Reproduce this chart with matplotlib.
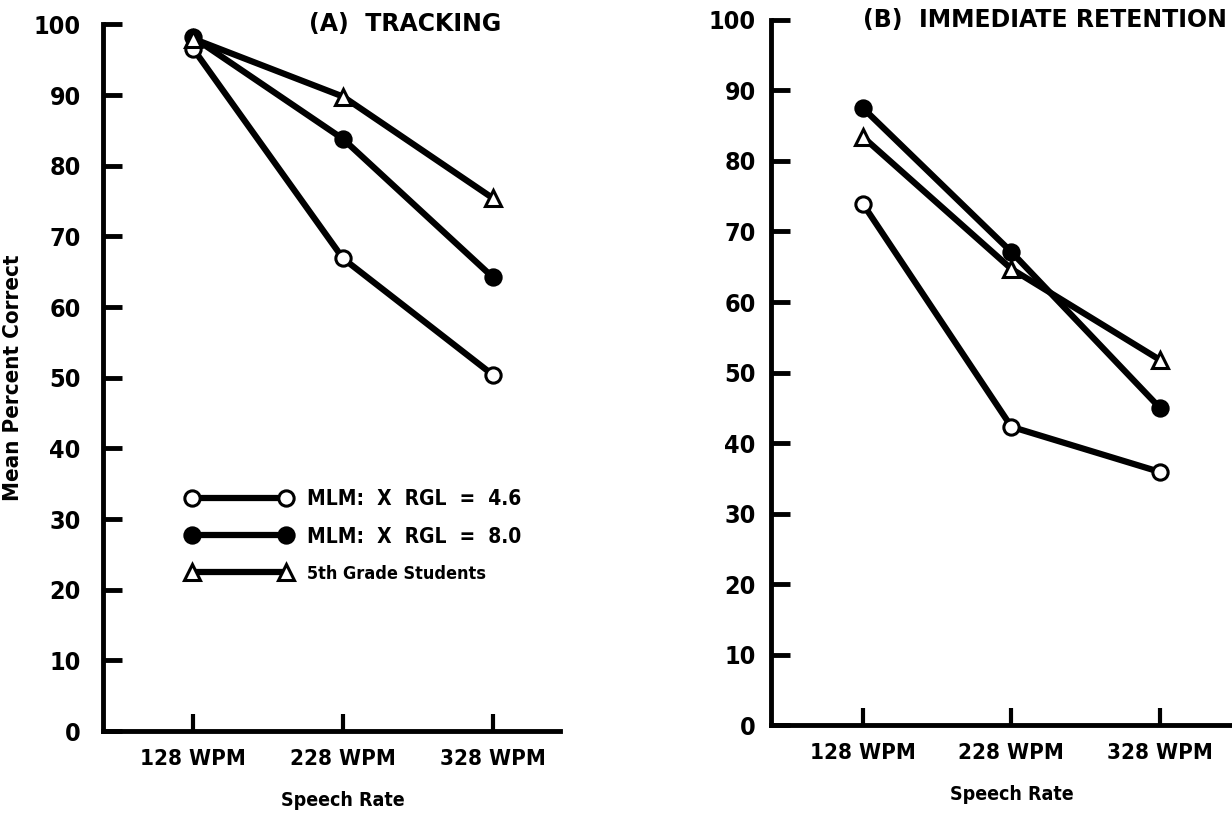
import matplotlib
matplotlib.use("Agg")
import matplotlib.pyplot as plt

plt.rcParams['font.family'] = ['DejaVu Sans']
plt.rcParams['font.stretch'] = 'condensed'
plt.rcParams['font.weight'] = 'bold'

rates = ['128 WPM', '228 WPM', '328 WPM']
labels = ['MLM:  X  RGL  =  4.6', 'MLM:  X  RGL  =  8.0', '5th Grade Students']

# panel A: tracking
track_rgl46 = [96.6, 66.9, 50.4]
track_rgl80 = [98.2, 83.8, 64.2]
track_grade5 = [98.0, 89.8, 75.4]

# panel B: immediate retention
ret_rgl46 = [73.9, 42.3, 35.9]
ret_rgl80 = [87.5, 67.1, 45.0]
ret_grade5 = [83.4, 64.7, 51.8]

yticks = [0, 10, 20, 30, 40, 50, 60, 70, 80, 90, 100]

fig = plt.figure(figsize=(12.32, 8.16), dpi=100)
axA = fig.add_axes([0.0836, 0.104, 0.371, 0.866])
axB = fig.add_axes([0.6258, 0.1115, 0.374, 0.864])

styles = [
    dict(marker='o', markerfacecolor='white'),
    dict(marker='o', markerfacecolor='black'),
    dict(marker='^', markerfacecolor='white'),
]


def draw_panel(ax, series, title, xlim, ypad, title_x):
    x = range(len(rates))
    for vals, st, lab in zip(series, styles, labels):
        ax.plot(x, vals, color='black', lw=4.5, markersize=11,
                markeredgecolor='black', markeredgewidth=2.2,
                clip_on=False, label=lab, **st)
    ax.set_xlim(*xlim)
    ax.set_ylim(0, 100)
    ax.set_xticks(list(x))
    ax.set_xticklabels(rates, fontsize=16)
    ax.set_yticks(yticks)
    ax.set_yticklabels([str(t) for t in yticks], fontsize=18)
    ax.tick_params(axis='y', direction='in', length=14, width=3.5, pad=ypad)
    ax.tick_params(axis='x', direction='in', length=12, width=3, pad=13)
    for s in ['top', 'right']:
        ax.spines[s].set_visible(False)
    for s in ['left', 'bottom']:
        ax.spines[s].set_linewidth(3.5)
    ax.set_xlabel('Speech Rate', fontsize=14, weight='bold')
    # centre the axis title under the middle tick, as in the scan
    mid = (1 - xlim[0]) / (xlim[1] - xlim[0])
    ax.xaxis.set_label_coords(mid, -0.085)
    ax.text(title_x, 1.0, title, transform=ax.transAxes, fontsize=17,
            ha='left', va='center', weight='bold', stretch='normal')


draw_panel(axA, [track_rgl46, track_rgl80, track_grade5], '(A)  TRACKING',
           (-0.6, 2.447), 16, 0.45)
draw_panel(axB, [ret_rgl46, ret_rgl80, ret_grade5], '(B)  IMMEDIATE RETENTION',
           (-0.62, 2.485), 11, 0.2)

axA.set_ylabel('Mean Percent Correct', fontsize=16, weight='bold')
axA.yaxis.set_label_coords(-0.175, 0.5)

leg = axA.legend(loc='lower left', bbox_to_anchor=(0.14, 0.183), frameon=False,
                 numpoints=2, handlelength=5.1, handletextpad=0.7,
                 labelspacing=0.85, fontsize=15)
leg.get_texts()[2].set_fontsize(13)

fig.savefig('out.png', dpi=100)
